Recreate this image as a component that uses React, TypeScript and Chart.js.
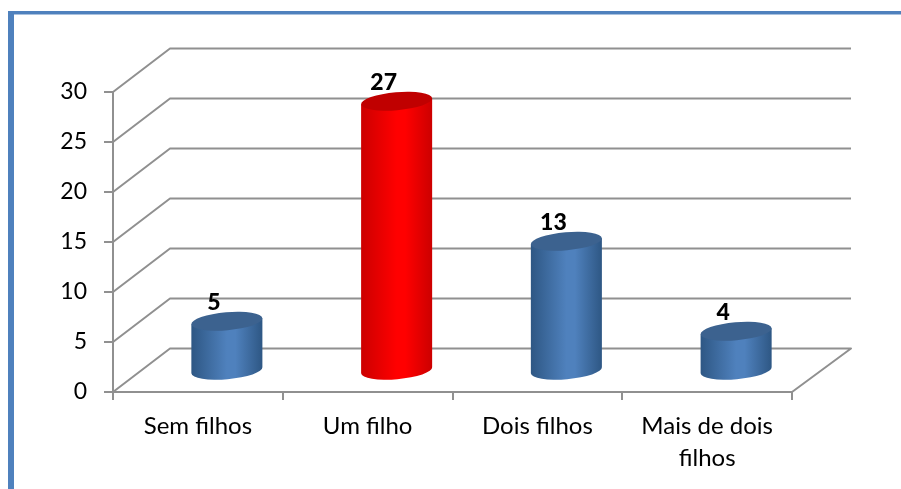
import React, { useEffect, useRef } from "react";
import { Chart, registerables } from "chart.js";

Chart.register(...registerables);

const categories = ["Sem filhos", "Um filho", "Dois filhos", ["Mais de dois", "filhos"]];
const values = [5, 27, 13, 4];
const topColors = ["#3c628f", "#c00000", "#3c628f", "#3c628f"];
const edgeColors = ["#2e5784", "#cc0000", "#2e5784", "#2e5784"];
const midColors = ["#4f81bd", "#ff0000", "#4f81bd", "#4f81bd"];
const yTicks = [0, 5, 10, 15, 20, 25, 30];

const DEPTH_X = 57;
const DEPTH_Y = -43.5;
const GRID = "#909090";
const FONT = "Lato, 'Open Sans', sans-serif";

const wallPlugin = {
  id: "wall",
  beforeDatasetsDraw(chart: any) {
    const { ctx, scales } = chart;
    const x0 = scales.x.left;
    const x1 = scales.x.right;
    ctx.save();
    ctx.strokeStyle = GRID;
    ctx.lineWidth = 2;
    ctx.lineJoin = "round";
    yTicks.forEach((t) => {
      const y = scales.y.getPixelForValue(t);
      ctx.beginPath();
      ctx.moveTo(x0, y);
      ctx.lineTo(x0 + DEPTH_X, y + DEPTH_Y);
      ctx.lineTo(x1 + DEPTH_X + 2, y + DEPTH_Y);
      if (t === 0) ctx.lineTo(x1, y);
      ctx.stroke();
    });
    ctx.restore();
  },
};

const cylinderPlugin = {
  id: "cylinder",
  afterDatasetsDraw(chart: any) {
    const { ctx } = chart;
    const meta = chart.getDatasetMeta(0);
    const tilt = (-5 * Math.PI) / 180;
    meta.data.forEach((bar: any, i: number) => {
      const a = bar.width / 2;
      const b = 9;
      const cx = bar.x + DEPTH_X / 2 + 0.5;
      const top = bar.y + DEPTH_Y / 2 + 1;
      const base = bar.base + DEPTH_Y / 2 + 1;
      const dx = a * Math.cos(tilt);
      const dy = a * Math.sin(tilt);
      const g = ctx.createLinearGradient(cx - dx, 0, cx + dx, 0);
      g.addColorStop(0, edgeColors[i]);
      g.addColorStop(0.5, midColors[i]);
      g.addColorStop(0.62, midColors[i]);
      g.addColorStop(1, edgeColors[i]);
      ctx.save();
      ctx.beginPath();
      ctx.moveTo(cx - dx, top - dy);
      ctx.lineTo(cx - dx, base - dy);
      ctx.ellipse(cx, base, a, b, tilt, Math.PI, 0, true);
      ctx.lineTo(cx + dx, top + dy);
      ctx.closePath();
      ctx.fillStyle = g;
      ctx.fill();
      ctx.beginPath();
      ctx.ellipse(cx, top, a, b, tilt, 0, Math.PI * 2);
      ctx.fillStyle = topColors[i];
      ctx.fill();
      ctx.fillStyle = "#000";
      ctx.font = `900 23px ${FONT}`;
      ctx.textAlign = "center";
      ctx.textBaseline = "middle";
      ctx.fillText(String(values[i]), bar.x + 16, bar.y - 39);
      ctx.restore();
    });
  },
};

export default function App() {
  const ref = useRef<HTMLCanvasElement>(null);
  useEffect(() => {
    document.body.style.margin = "0";
    const chart = new Chart(ref.current as HTMLCanvasElement, {
      type: "bar",
      data: {
        labels: categories as any,
        datasets: [
          {
            data: values,
            backgroundColor: "rgba(0,0,0,0)",
            categoryPercentage: 1,
            barPercentage: 0.42,
          },
        ],
      },
      plugins: [wallPlugin, cylinderPlugin],
      options: {
        animation: false,
        responsive: false,
        layout: { padding: { top: 92, right: 109, left: 0, bottom: 0 } },
        plugins: { legend: { display: false }, tooltip: { enabled: false } },
        scales: {
          x: {
            afterFit: (s: any) => {
              s.height = 97;
            },
            grid: { display: true, drawOnChartArea: false, color: GRID, lineWidth: 2, tickLength: 8, tickColor: GRID },
            border: { color: GRID, width: 2 },
            ticks: {
              color: "#000",
              font: { family: FONT, size: 24, lineHeight: 1.33 },
              maxRotation: 0,
              padding: 10,
            },
          },
          y: {
            min: 0,
            max: 30,
            afterFit: (s: any) => {
              s.width = 113;
            },
            grid: { display: true, drawOnChartArea: false, color: GRID, lineWidth: 2, tickLength: 9, tickColor: GRID },
            border: { color: GRID, width: 2 },
            ticks: {
              stepSize: 5,
              color: "#000",
              font: { family: FONT, size: 23 },
              padding: 17,
            },
          },
        },
      },
    });
    return () => chart.destroy();
  }, []);
  return (
    <div style={{ position: "relative", width: 901, height: 489, background: "#fff", overflow: "hidden" }}>
      <canvas ref={ref} width={901} height={489} style={{ display: "block" }} />
      <div style={{ position: "absolute", left: 8, top: 14, width: 893, height: 1, background: "#a9c1de" }} />
      <div style={{ position: "absolute", left: 8, top: 11, width: 893, height: 3, background: "#4f81bd" }} />
      <div style={{ position: "absolute", left: 8, top: 11, width: 6, height: 478, background: "#4f81bd" }} />
    </div>
  );
}
